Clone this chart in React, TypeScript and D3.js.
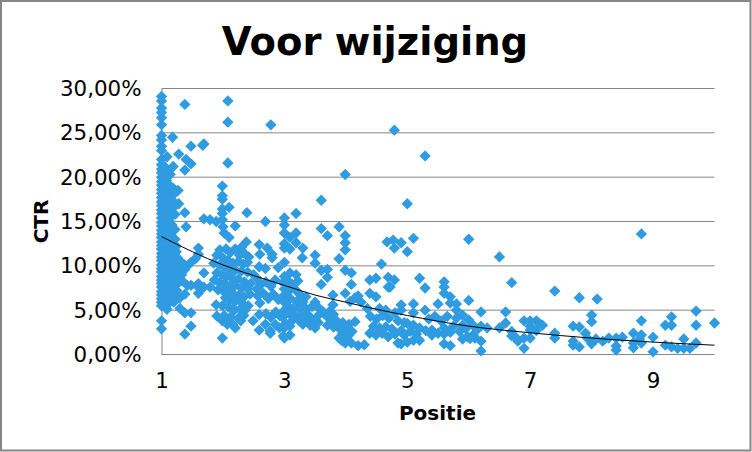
import { useEffect, useRef } from 'react';
import * as d3 from 'd3';

type Point = [number, number];

const title = 'Voor wijziging';
const xLabel = 'Positie';
const yLabel = 'CTR';
const xTicks = [1, 3, 5, 7, 9];
const yTicks = [0, 5, 10, 15, 20, 25, 30];

// CTR values (in %) sitting exactly on Positie 1
const ctrAtOne = [
  29.1, 28.6, 27.8, 27.3, 26.7, 25.9, 24.7, 24.2, 23.5, 23.0, 22.0, 21.4, 20.9, 20.5, 20.0, 19.5,
  19.1, 18.6, 18.2, 17.7, 17.2, 16.8, 16.3, 15.9, 15.4, 14.9, 14.5, 14.0, 13.6, 13.2, 12.7, 12.3,
  11.9, 11.4, 11.0, 10.6, 10.1, 9.7, 9.3, 8.8, 8.4, 8.0, 7.6, 7.1, 6.7, 6.3, 5.9, 5.5, 3.8, 2.9,
];

// Positie just above 1
const nearOne: Point[] = [
  [1.09, 22.3], [1.05, 21.2], [1.1, 20.6], [1.05, 20.1], [1.14, 20.3], [1.08, 19.6], [1.05, 19.0],
  [1.1, 18.9], [1.16, 18.9], [1.2, 18.7], [1.06, 18.3], [1.12, 18.2], [1.18, 18.0], [1.27, 18.5],
  [1.23, 18.3], [1.05, 17.6], [1.1, 17.4], [1.15, 17.5], [1.2, 17.2], [1.06, 16.9], [1.12, 16.6],
  [1.18, 16.5], [1.28, 17.0], [1.05, 16.1], [1.1, 15.9], [1.22, 15.8], [1.16, 15.6], [1.07, 15.3],
  [1.13, 15.0], [1.05, 14.7], [1.1, 14.4], [1.17, 14.6], [1.22, 14.1], [1.07, 13.9], [1.13, 13.6],
  [1.05, 13.1], [1.1, 12.8], [1.18, 12.9], [1.05, 12.3], [1.12, 12.1], [1.18, 11.9], [1.08, 11.6],
  [1.05, 11.1], [1.14, 11.2], [1.2, 11.1], [1.26, 10.9], [1.1, 10.6], [1.17, 10.4], [1.24, 10.3],
  [1.05, 10.2], [1.3, 10.0], [1.1, 9.9], [1.16, 9.8], [1.23, 9.7], [1.05, 9.5], [1.29, 9.5],
  [1.38, 9.6], [1.12, 9.2], [1.19, 9.1], [1.26, 9.2], [1.33, 9.0], [1.06, 8.8], [1.12, 8.5],
  [1.2, 8.5], [1.27, 8.5], [1.34, 8.3], [1.06, 8.2], [1.13, 7.9], [1.2, 7.7], [1.07, 7.5],
  [1.13, 7.2], [1.19, 7.0], [1.06, 6.9], [1.12, 6.5], [1.18, 6.5], [1.06, 6.1], [1.12, 5.8],
  [1.09, 5.1], [1.06, 5.5], [1.22, 13.0], [1.24, 12.2], [1.24, 11.6], [1.28, 10.6], [1.32, 10.4],
  [1.36, 10.2], [1.3, 8.9], [1.25, 7.9], [1.25, 7.2], [1.22, 6.4], [1.2, 5.9],
];

// Looser points between Positie 1.2 and 1.8
const firstGap: Point[] = [
  [1.38, 28.2], [1.18, 24.5], [1.48, 23.5], [1.69, 23.75], [1.67, 23.6], [1.28, 22.6], [1.4, 22.0],
  [1.48, 21.5], [1.38, 20.8], [1.19, 21.2], [1.38, 16.0], [1.69, 15.3], [1.79, 15.2], [1.3, 5.2],
  [1.38, 2.3], [1.48, 3.2], [1.48, 4.7], [1.38, 4.7], [1.3, 6.4], [1.38, 6.8], [1.48, 7.8],
  [1.6, 6.9], [1.64, 7.4], [1.69, 7.6], [1.6, 8.0], [1.69, 9.2], [1.6, 12.0], [1.6, 11.3],
  [1.55, 10.8], [1.48, 10.4], [1.42, 10.0], [1.6, 7.6], [1.79, 7.6], [1.42, 7.8], [1.4, 14.4],
];

// The block around Positie 2
const aroundTwo: Point[] = [
  [2.08, 28.6], [2.08, 26.2], [2.08, 21.6], [1.99, 19.0], [1.99, 17.9], [1.99, 17.5], [1.99, 16.4],
  [1.99, 15.9], [2.1, 16.6], [1.89, 15.0], [1.99, 15.2], [2.39, 16.0], [2.2, 14.5], [2.0, 14.4],
  [2.02, 13.7], [2.1, 13.2], [1.95, 11.8], [2.05, 11.9], [2.12, 11.5], [2.2, 11.9], [2.3, 12.1],
  [2.38, 12.7], [2.27, 11.2], [2.35, 11.4], [2.42, 11.0], [1.9, 11.2], [2.0, 10.9], [2.08, 10.6],
  [2.16, 10.3], [2.25, 10.5], [2.33, 10.2], [2.4, 10.4], [1.85, 10.3], [1.95, 10.1], [2.03, 9.9],
  [2.12, 9.6], [2.2, 9.5], [2.3, 9.4], [2.4, 9.3], [2.5, 9.0], [2.55, 8.6], [1.9, 9.2], [1.98, 9.0],
  [2.06, 8.8], [2.15, 8.6], [2.25, 8.5], [2.35, 8.2], [2.45, 8.0], [1.86, 8.4], [1.94, 8.1],
  [2.02, 8.0], [2.1, 7.7], [2.2, 7.8], [2.3, 7.5], [2.4, 7.4], [1.92, 7.3], [2.0, 7.2], [2.08, 7.0],
  [2.16, 6.9], [2.26, 6.7], [2.34, 6.5], [2.44, 6.8], [2.04, 6.4], [2.12, 6.2], [2.2, 6.0],
  [2.3, 5.9], [2.41, 5.5], [1.89, 5.6], [1.99, 5.5], [2.08, 5.4], [2.17, 5.2], [2.28, 5.1],
  [2.36, 5.0], [1.9, 4.35], [1.99, 3.8], [2.07, 3.4], [2.2, 3.0], [2.17, 4.9], [2.02, 4.4],
  [2.12, 4.2], [2.25, 4.1], [2.34, 4.4], [2.1, 3.7], [2.16, 3.4], [2.29, 3.8], [1.99, 1.85],
];

// Positie 2.4 to 3, thinning out before the next column
const towardsThree: Point[] = [
  [2.78, 25.9], [2.69, 15.0], [2.6, 11.3], [2.59, 12.4], [2.72, 12.0], [2.8, 11.3], [2.8, 10.9],
  [2.59, 9.9], [2.69, 9.7], [2.55, 7.4], [2.62, 7.9], [2.7, 8.2], [2.78, 7.7], [2.85, 8.4],
  [2.9, 9.8], [2.57, 6.6], [2.66, 6.9], [2.6, 5.8], [2.74, 6.3], [2.82, 6.8], [2.9, 6.2],
  [2.49, 3.8], [2.59, 4.5], [2.59, 2.75], [2.69, 3.4], [2.77, 2.65], [2.7, 4.6], [2.78, 4.2],
  [2.86, 4.8], [2.92, 4.4], [2.85, 3.4], [2.92, 3.0], [2.77, 2.4], [2.98, 2.1],
];

// Positie 3 to 3.6
const aroundThree: Point[] = [
  [3.19, 15.9], [3.0, 15.4], [3.0, 14.6], [3.0, 13.7], [3.19, 13.7], [3.09, 13.2], [3.19, 12.6],
  [3.0, 12.5], [3.0, 12.0], [3.09, 11.9], [3.3, 12.0], [3.29, 10.9], [3.0, 10.4], [3.09, 9.2],
  [3.19, 9.0], [3.0, 8.8], [2.98, 8.1], [3.05, 8.4], [3.12, 7.9], [3.22, 8.3], [3.0, 7.4],
  [3.08, 7.2], [3.18, 7.3], [3.25, 6.8], [3.35, 6.5], [3.0, 6.7], [3.1, 6.3], [3.2, 6.0],
  [3.3, 5.9], [3.0, 5.9], [3.06, 5.4], [3.14, 5.2], [3.25, 5.2], [3.36, 5.1], [3.45, 5.4],
  [3.0, 5.0], [3.08, 4.6], [3.18, 4.4], [3.28, 4.4], [3.38, 4.5], [2.97, 4.2], [3.14, 3.9],
  [3.24, 3.8], [3.34, 3.9], [3.02, 3.5], [3.09, 3.2], [3.0, 3.0], [3.09, 2.2], [3.0, 1.85],
  [3.5, 11.2], [3.5, 10.3], [3.5, 3.0], [3.55, 3.6], [3.5, 4.0], [3.58, 4.6], [3.5, 5.9],
  [3.55, 5.3], [3.45, 4.0], [3.42, 3.3], [3.3, 3.4],
];

// Positie 3.6 to 5
const towardsFive: Point[] = [
  [3.99, 20.3], [3.6, 17.4], [3.6, 14.2], [3.7, 13.4], [3.89, 14.4], [3.99, 13.4], [3.99, 12.6],
  [3.99, 11.8], [3.89, 10.8], [3.6, 9.5], [3.7, 9.6], [3.7, 8.7], [3.6, 7.9], [3.99, 9.5],
  [4.09, 9.2], [4.09, 7.9], [3.99, 6.9], [3.79, 6.7], [3.79, 5.6], [4.07, 6.0], [4.15, 6.4],
  [4.2, 6.6], [4.25, 5.9], [4.35, 5.2], [3.65, 4.6], [3.75, 4.0], [3.85, 3.8], [3.7, 3.3],
  [3.8, 3.1], [3.9, 2.9], [3.95, 3.6], [4.05, 3.4], [4.15, 3.7], [3.89, 1.85], [3.99, 1.3],
  [4.09, 1.3], [4.2, 1.0], [4.3, 1.1], [3.95, 2.4], [4.05, 2.2], [4.79, 25.3], [4.58, 10.2],
  [4.67, 12.7], [4.77, 12.9], [4.39, 8.4], [4.49, 8.6], [4.69, 8.7], [4.79, 8.4], [4.69, 7.6],
  [4.39, 6.9], [4.49, 6.5], [4.72, 7.6], [4.9, 5.6], [4.9, 5.0], [4.8, 4.7], [4.55, 5.2],
  [4.65, 5.0], [4.4, 4.3], [4.5, 4.0], [4.6, 4.4], [4.7, 4.1], [4.85, 3.8], [4.95, 3.6],
  [4.39, 2.4], [4.49, 2.2], [4.59, 2.4], [4.69, 2.0], [4.45, 3.2], [4.55, 3.0], [4.65, 3.1],
  [4.75, 2.9], [4.85, 1.3], [4.8, 2.3], [4.9, 2.7], [4.79, 12.0], [4.9, 12.6], [3.62, 4.9],
  [3.68, 4.4], [3.74, 4.9], [3.8, 4.5], [3.86, 3.4], [3.92, 3.3], [3.98, 2.8], [4.03, 2.9],
  [4.1, 2.6], [4.0, 1.9], [3.93, 1.6],
];

// Positie 5 to 6.2
const towardsSix: Point[] = [
  [5.29, 22.4], [5.0, 17.0], [5.1, 13.1], [5.0, 11.6], [5.2, 8.6], [5.29, 7.5], [5.6, 8.2],
  [5.6, 7.6], [5.6, 6.9], [5.7, 6.5], [5.7, 5.8], [5.5, 5.7], [5.8, 5.7], [6.0, 13.0], [6.0, 6.1],
  [5.1, 5.7], [5.29, 5.0], [5.1, 4.7], [5.9, 4.45], [5.8, 5.0], [5.8, 4.1], [6.0, 3.9],
  [6.07, 3.3], [5.9, 3.3], [5.65, 4.3], [5.45, 4.3], [5.35, 4.0], [5.55, 3.8], [5.0, 3.5],
  [5.1, 3.3], [5.2, 3.0], [5.05, 2.6], [5.15, 2.3], [4.95, 2.2], [5.3, 2.7], [5.4, 2.75],
  [5.4, 2.2], [5.5, 2.4], [5.6, 3.0], [5.7, 2.5], [5.6, 2.3], [5.75, 3.2], [5.85, 2.6],
  [5.95, 2.9], [6.07, 2.2], [6.1, 1.85], [5.98, 2.0], [5.9, 1.75], [4.9, 1.2], [5.0, 1.4],
  [5.1, 1.6], [5.2, 1.6], [5.6, 1.2], [5.7, 1.0], [6.02, 1.8], [6.15, 2.9], [6.2, 3.2],
];

// Right hand side, thin scatter
const tail: Point[] = [
  [6.2, 4.8], [6.2, 1.5], [6.2, 0.4], [6.3, 3.0], [6.09, 2.0], [6.5, 11.0], [6.5, 3.0],
  [6.6, 4.8], [6.6, 3.55], [6.7, 8.1], [6.7, 2.1], [6.7, 2.6], [6.77, 1.9], [6.8, 1.5], [6.9, 3.8],
  [6.9, 1.85], [6.9, 0.7], [7.0, 3.8], [7.0, 3.2], [7.0, 2.75], [7.0, 1.85], [7.1, 3.8], [7.1, 2.7],
  [7.15, 3.5], [7.2, 3.3], [7.4, 7.15], [7.4, 2.4], [7.4, 1.85], [7.7, 3.2], [7.7, 1.5], [7.7, 1.05],
  [7.8, 6.4], [7.8, 3.1], [7.8, 0.85], [7.9, 2.4], [7.93, 1.85], [8.0, 4.45], [8.0, 3.7], [8.0, 1.2],
  [8.07, 1.75], [8.09, 6.25], [8.18, 1.5], [8.28, 1.85], [8.4, 1.85], [8.4, 0.95], [8.4, 0.5],
  [8.5, 1.95], [8.68, 2.4], [8.68, 1.3], [8.68, 0.75], [8.78, 1.75], [8.81, 13.6], [8.81, 3.8],
  [8.81, 2.2], [8.81, 1.3], [9.0, 1.95], [9.0, 0.3], [9.2, 3.3], [9.2, 1.05], [9.3, 4.25], [9.3, 3.3],
  [9.3, 0.85], [9.4, 0.7], [9.5, 1.75], [9.5, 0.7], [9.6, 0.7], [9.7, 4.9], [9.7, 3.3], [9.7, 1.3],
  [10.0, 3.55],
];

// Trend line
const trendPos = [1, 1.5, 2, 2.5, 3, 3.5, 4, 4.5, 5, 6, 7, 8, 9, 10];
const trendCtr = [13.3, 11.6, 10.1, 8.9, 7.8, 6.7, 5.9, 5.1, 4.4, 3.2, 2.45, 1.85, 1.4, 1.05];

const points: Point[] = [
  ...ctrAtOne.map((c): Point => [1, c]),
  ...nearOne,
  ...firstGap,
  ...aroundTwo,
  ...towardsThree,
  ...aroundThree,
  ...towardsFive,
  ...towardsSix,
  ...tail,
];

const width = 752;
const height = 452;
const font = '"DejaVu Sans", sans-serif';

export default function App() {
  const svgRef = useRef<SVGSVGElement | null>(null);

  useEffect(() => {
    const svg = d3.select(svgRef.current);
    svg.selectAll('*').remove();

    const x = d3.scaleLinear().domain([1, 10]).range([161.5, 714.5]);
    const y = d3.scaleLinear().domain([0, 30]).range([354.5, 88.5]);

    // Chart frame
    svg
      .append('rect')
      .attr('x', 1)
      .attr('y', 1)
      .attr('width', width - 2.5)
      .attr('height', height - 2.5)
      .attr('fill', '#fff')
      .attr('stroke', '#868686')
      .attr('stroke-width', 2);

    // Horizontal grid lines
    svg
      .append('g')
      .selectAll('line')
      .data(yTicks)
      .enter()
      .append('line')
      .attr('x1', x(1))
      .attr('x2', x(10))
      .attr('y1', (d) => y(d))
      .attr('y2', (d) => y(d))
      .attr('stroke', '#868686')
      .attr('stroke-width', 1);

    // Axes
    const xAxis = svg
      .append('g')
      .attr('transform', `translate(0,${y(0)})`)
      .call(
        d3
          .axisBottom(x)
          .tickValues(xTicks)
          .tickSize(0)
          .tickPadding(18)
          .tickFormat(d3.format('d') as (d: d3.NumberValue) => string)
      );
    const yAxis = svg
      .append('g')
      .attr('transform', `translate(${x(1)},0)`)
      .call(
        d3
          .axisLeft(y)
          .tickValues(yTicks)
          .tickSize(0)
          .tickPadding(20)
          .tickFormat((d) => `${d3.format('.2f')(d as number).replace('.', ',')}%`)
      );
    xAxis.select('.domain').remove();
    yAxis.select('.domain').attr('stroke', '#868686');
    [xAxis, yAxis].forEach((axis) => {
      axis.attr('font-family', font).attr('font-size', 21.4);
      axis.selectAll('text').attr('fill', '#000');
    });

    // Markers
    const diamond = d3.symbol().type(d3.symbolSquare).size(64);
    svg
      .append('g')
      .selectAll('path')
      .data(points)
      .enter()
      .append('path')
      .attr('d', diamond)
      .attr('transform', (d) => `translate(${x(d[0])},${y(d[1])}) rotate(45)`)
      .attr('fill', '#2f9be0');

    // Trend line
    const line = d3
      .line<number>()
      .x((d) => x(d))
      .y((_, i) => y(trendCtr[i]))
      .curve(d3.curveMonotoneX);
    svg
      .append('path')
      .datum(trendPos)
      .attr('d', line)
      .attr('fill', 'none')
      .attr('stroke', '#000')
      .attr('stroke-width', 1);

    // Titles
    svg
      .append('text')
      .attr('x', 375)
      .attr('y', 55)
      .attr('text-anchor', 'middle')
      .attr('font-family', font)
      .attr('font-weight', 'bold')
      .attr('font-size', 38.5)
      .text(title);
    svg
      .append('text')
      .attr('x', 437.5)
      .attr('y', 420)
      .attr('text-anchor', 'middle')
      .attr('font-family', font)
      .attr('font-weight', 'bold')
      .attr('font-size', 20)
      .text(xLabel);
    svg
      .append('text')
      .attr('transform', 'translate(48,221.5) rotate(-90)')
      .attr('text-anchor', 'middle')
      .attr('font-family', font)
      .attr('font-weight', 'bold')
      .attr('font-size', 20)
      .text(yLabel);
  }, []);

  return (
    <svg
      ref={svgRef}
      width={width}
      height={height}
      style={{ position: 'absolute', left: 0, top: 0, display: 'block' }}
    ></svg>
  );
}
